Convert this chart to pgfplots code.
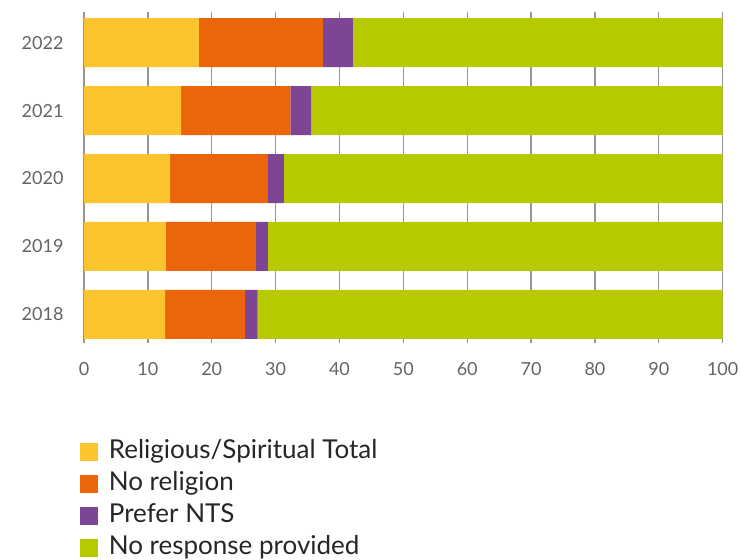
\documentclass[border=0pt]{standalone}
\usepackage{fontspec}
\setmainfont{Lato}
\usepackage{pgfplots}
\pgfplotsset{compat=1.18}

\definecolor{relig}{RGB}{252,197,48}
\definecolor{norel}{RGB}{235,102,10}
\definecolor{nts}{RGB}{126,69,148}
\definecolor{nores}{RGB}{183,201,0}
\definecolor{ticktxt}{RGB}{100,100,100}
\definecolor{gridc}{RGB}{150,150,150}

\begin{document}
\begin{tikzpicture}
\path[use as bounding box] (0,0) rectangle (741bp,560bp);
\begin{axis}[
    at={(84bp,217bp)}, anchor=south west,
    scale only axis, width=638.7bp, height=331bp,
    xbar stacked, bar width=49bp,
    xmin=0, xmax=100, ymin=-0.42, ymax=4.45,
    xtick={0,10,...,100},
    ytick={0,1,2,3,4},
    yticklabels={2018,2019,2020,2021,2022},
    xmajorgrids, grid style={gridc, line width=1.3bp},
    axis line style={draw=none},
    major tick style={draw=none},
    /pgf/number format/assume math mode=true,
    tick label style={font=\fontsize{18bp}{21bp}\selectfont, text=ticktxt},
    xticklabel style={yshift=-16bp},
    yticklabel style={xshift=-17bp},
    legend image code/.code={\fill[#1] (0bp,-9bp) rectangle (17.5bp,9bp);},
    legend style={at={(-0.006,-0.28)}, anchor=north west, draw=none, fill=none,
        font=\fontsize{26bp}{32bp}\selectfont, text=black!85,
        nodes={text height=20bp, text depth=6bp, inner sep=3bp},
        row sep=0bp, column sep=8bp, inner sep=0pt},
    legend cell align=left,
]
\addplot[fill=relig, draw=none] coordinates {(12.7,0) (12.8,1) (13.5,2) (15.2,3) (18.0,4)};
\addplot[fill=norel, draw=none] coordinates {(12.5,0) (14.1,1) (15.3,2) (17.1,3) (19.4,4)};
\addplot[fill=nts, draw=none] coordinates {(2.0,0) (1.9,1) (2.5,2) (3.3,3) (4.7,4)};
\addplot[fill=nores, draw=none] coordinates {(72.8,0) (71.2,1) (68.7,2) (64.4,3) (57.9,4)};
\legend{Religious/Spiritual Total, No religion, Prefer NTS, No response provided}
\end{axis}
\end{tikzpicture}
\end{document}
